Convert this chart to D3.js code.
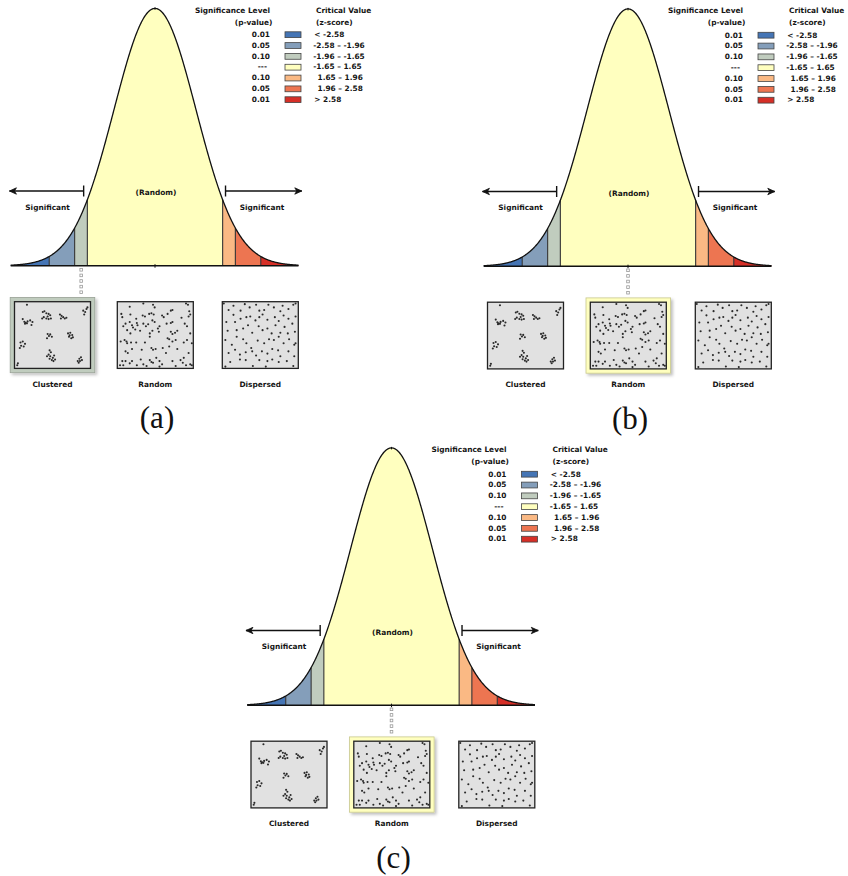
<!DOCTYPE html>
<html>
<head>
<meta charset="utf-8">
<script src="https://cdn.jsdelivr.net/npm/d3@7"></script>
<style>
  body { margin: 0; background: #fff; }
  text { font-family: "DejaVu Sans", Verdana, sans-serif; font-weight: bold; font-size: 7.4px; fill: #151515; }
  .panel-label { font-family: "Liberation Serif", "Times New Roman", serif; font-weight: normal; font-size: 31px; fill: #111; }
</style>
</head>
<body>
<div id="chart"></div>
<script>
// critical values (z-score) that split the curve into bands
const zBreaks = [-2.58, -1.96, -1.65, 1.65, 1.96, 2.58];
const bandColors = ["#4575b5", "#849eba", "#c0ccbe", "#ffffbf", "#fab984", "#ed7551", "#d62f27"];
const pValues = ["0.01", "0.05", "0.10", "---", "0.10", "0.05", "0.01"];
const zLabels = ["< -2.58", "-2.58 \u2013 -1.96", "-1.96 \u2013 -1.65", "-1.65 \u2013 1.65", "1.65 \u2013 1.96", "1.96 \u2013 2.58", "> 2.58"];
const patternNames = ["Clustered", "Random", "Dispersed"];
const panelLabels = ["(a)", "(b)", "(c)"];
const highlighted = [0, 1, 1];            // which pattern box is framed in each panel
const connectorZ = [-1.8, 0, 0];         // z-score where the dotted connector drops
const highlightBand = [2, 3, 3];         // band colour of the frame

// point patterns, in a 230 x 200 grid per box
const clusteredPts = [
  [36,7],
  [23,51],[28,59],[32,62],[36,64],[30,65],[46,55],[53,60],[50,69],[38,58],
  [85,29],[90,27],[96,33],[103,35],[108,39],[88,45],[96,49],[103,51],[110,49],[83,49],[100,43],
  [138,37],[143,41],[148,45],[153,49],[158,47],[141,49],
  [210,25],[216,29],[220,20],[213,37],[223,15],
  [98,110],[104,103],[108,98],[113,105],[100,97],
  [163,95],[170,93],[176,100],[166,105],[173,110],[168,101],[178,107],
  [16,123],[23,120],[30,127],[18,133],[26,135],[14,140],
  [106,147],[110,153],[103,160],[98,165],[108,165],[116,170],[120,163],[113,177],[106,173],[123,175],[118,180],
  [193,180],[198,173],[203,168],[200,180],[206,177],[196,185],
  [6,193],[8,187]
];
const randomPts = [
  [36,13],[78,3],[108,7],[113,15],[163,25],[168,23],[210,3],[216,7],[220,27],
  [10,35],[13,45],[38,37],[56,50],[76,40],[83,43],[96,35],[103,33],[110,37],[136,40],[141,45],[153,35],[196,47],[218,43],[223,37],
  [16,73],[23,65],[36,60],[43,70],[46,77],[58,63],[60,70],[78,65],[86,73],[93,67],[106,55],[113,60],[123,80],[128,73],[150,65],[163,63],[168,60],[206,65],[213,73],
  [28,85],[38,95],[53,83],[68,87],[98,95],[106,87],[126,90],[163,90],[168,97],[176,93],[183,87],[223,95],
  [8,120],[20,115],[26,120],[28,125],[40,123],[56,123],[83,123],[98,105],[153,110],[158,113],[168,120],[178,115],[203,123],[213,115],[228,125],
  [23,150],[30,155],[43,143],[73,145],[103,140],[108,145],[116,143],[138,140],[158,135],[183,143],[218,155],
  [13,180],[23,180],[36,187],[43,180],[70,175],[78,190],[98,177],[103,183],[108,185],[118,170],[128,180],[136,190],[148,155],[168,180],[193,177],[200,185],[203,170],[210,193],[223,190],
  [6,193],[16,193],[58,193],[88,195],[128,197],[178,195],[228,193]
];
const dispersedPts = [
  [17,23],[32,10],[54,25],[67,5],[82,15],[102,7],[112,25],[127,23],[140,7],[157,15],[177,27],[184,10],[202,20],[217,7],
  [10,60],[32,38],[37,60],[54,50],[72,45],[84,43],[100,55],[112,45],[122,37],[137,53],[160,45],[172,57],[187,40],[202,50],[214,65],[224,43],
  [14,87],[42,85],[62,80],[77,70],[90,93],[110,73],[122,85],[137,80],[150,95],[162,70],[177,93],[190,75],[200,95],[222,90],
  [7,115],[27,130],[42,105],[62,113],[72,125],[87,140],[107,117],[127,125],[142,113],[157,115],[172,105],[187,125],[204,113],[220,130],
  [17,155],[37,145],[52,160],[70,153],[90,150],[102,163],[120,150],[137,157],[152,143],[170,147],[177,165],[202,150],[220,165],
  [22,183],[52,175],[70,177],[92,195],[112,177],[137,180],[152,175],[172,183],[197,180],[217,195],[7,197],[132,197],[2,3],[224,3],[224,125]
];
const patterns = [clusteredPts, randomPts, dispersedPts];

const W = 848, H = 876;
const svg = d3.select("#chart").append("svg").attr("width", W).attr("height", H);

const defs = svg.append("defs");
defs.append("filter").attr("id", "shadow").attr("x", "-20%").attr("y", "-20%").attr("width", "150%").attr("height", "150%")
  .append("feDropShadow").attr("dx", 2).attr("dy", 2).attr("stdDeviation", 1.5).attr("flood-color", "#000").attr("flood-opacity", 0.25);

const panelOffsets = [[0, 0], [473, 0.5], [236.5, 439.5]];

const x = d3.scaleLinear().domain([-3.5, 3.5]).range([11.5, 298.5]);
const y = d3.scaleLinear().domain([0, 1]).range([265.7, 8.4]);
const pdf = z => Math.exp(-z * z / 2);
const zMin = -3.52, zMax = 3.5;

const area = d3.area().x(d => x(d)).y0(y(0)).y1(d => y(pdf(d)));
const line = d3.line().x(d => x(d)).y(d => y(pdf(d)));

const sampleRange = (lo, hi) => d3.range(lo, hi, 0.01).concat([hi]);

const boxX = [14.5, 117.3, 222.3], boxW = 76, boxY = 301.7, boxH = 66.7;

panelOffsets.forEach((off, p) => {
  const g = svg.append("g").attr("transform", `translate(${off[0]},${off[1]})`);

  // bands under the curve
  const edges = [zMin].concat(zBreaks, [zMax]);
  g.selectAll(".band").data(d3.range(7)).join("path")
    .attr("class", "band")
    .attr("d", i => area(sampleRange(edges[i], edges[i + 1])))
    .attr("fill", i => bandColors[i]);

  g.selectAll(".sep").data(zBreaks).join("line")
    .attr("class", "sep")
    .attr("x1", d => x(d)).attr("x2", d => x(d))
    .attr("y1", y(0)).attr("y2", d => y(pdf(d)))
    .attr("stroke", "#333").attr("stroke-width", 1.1);

  g.append("path").attr("d", line(sampleRange(zMin, zMax)))
    .attr("fill", "none").attr("stroke", "#111").attr("stroke-width", 1.3);

  g.append("line").attr("x1", x(zMin)).attr("x2", x(zMax)).attr("y1", y(0)).attr("y2", y(0))
    .attr("stroke", "#111").attr("stroke-width", 1.6);

  // small ticks at z = 0
  g.append("line").attr("x1", x(0)).attr("x2", x(0)).attr("y1", y(1) - 1).attr("y2", y(1) + 1.5)
    .attr("stroke", "#111").attr("stroke-width", 1);
  g.append("line").attr("x1", x(0)).attr("x2", x(0)).attr("y1", y(0) - 1.5).attr("y2", y(0) + 2)
    .attr("stroke", "#111").attr("stroke-width", 1);

  // arrows
  const ay = 191;
  const arrow = (xHead, xBar) => {
    const dir = xHead < xBar ? 1 : -1;
    g.append("line").attr("x1", xHead).attr("x2", xBar).attr("y1", ay).attr("y2", ay)
      .attr("stroke", "#111").attr("stroke-width", 1.4);
    g.append("line").attr("x1", xBar).attr("x2", xBar).attr("y1", ay - 5.5).attr("y2", ay + 5.5)
      .attr("stroke", "#111").attr("stroke-width", 1.4);
    g.append("path")
      .attr("d", `M${xHead},${ay} L${xHead + dir * 7},${ay - 3.2} L${xHead + dir * 5},${ay} L${xHead + dir * 7},${ay + 3.2} Z`)
      .attr("fill", "#111").attr("stroke", "#111").attr("stroke-width", 0.8).attr("stroke-linejoin", "round");
  };
  arrow(x(-3.55), x(-1.74));
  arrow(x(3.58), x(1.72));

  g.append("text").attr("x", x(0) + 1).attr("y", 195).attr("text-anchor", "middle").text("(Random)");
  g.append("text").attr("x", x(-2.62)).attr("y", 209.5).attr("text-anchor", "middle").text("Significant");
  g.append("text").attr("x", x(2.61)).attr("y", 209.5).attr("text-anchor", "middle").text("Significant");

  // legend
  const lg = g.append("g");
  const rowY = i => 37 + i * 10.83;
  lg.append("text").attr("x", 270).attr("y", 12.9).attr("text-anchor", "end").text("Significance Level");
  lg.append("text").attr("x", 272.5).attr("y", 24.5).attr("text-anchor", "end").text("(p-value)");
  lg.append("text").attr("x", 316).attr("y", 12.9).text("Critical Value");
  lg.append("text").attr("x", 316).attr("y", 24.5).text("(z-score)");
  lg.selectAll(".pv").data(pValues).join("text").attr("class", "pv")
    .attr("x", d => d === "---" ? 267 : 270).attr("y", (d, i) => rowY(i)).attr("text-anchor", "end").text(d => d);
  lg.selectAll(".sw").data(bandColors).join("rect").attr("class", "sw")
    .attr("x", 285).attr("y", (d, i) => rowY(i) - 5.2).attr("width", 16).attr("height", 5.8)
    .attr("fill", d => d).attr("stroke", "#444").attr("stroke-width", 0.8);
  lg.selectAll(".zl").data(zLabels).join("text").attr("class", "zl")
    .attr("x", (d, i) => i === 0 || i === 6 ? 314.3 : (i < 4 ? 313.3 : 317.5))
    .attr("y", (d, i) => rowY(i)).text(d => d);

  // dotted connector
  const cx = x(connectorZ[p]);
  g.selectAll(".conn").data(d3.range(268.5, 296, 5.6)).join("rect").attr("class", "conn")
    .attr("x", cx - 1.3).attr("y", d => d).attr("width", 2.6).attr("height", 2.6)
    .attr("fill", "#fff").attr("stroke", "#999").attr("stroke-width", 0.8);

  // pattern boxes
  patterns.forEach((pts, k) => {
    const bx = boxX[k];
    if (highlighted[p] === k) {
      g.append("rect").attr("x", bx - 4.3).attr("y", boxY - 4.3).attr("width", boxW + 8.6).attr("height", boxH + 8.6)
        .attr("fill", bandColors[highlightBand[p]]).attr("stroke", highlightBand[p] === 3 ? "#c9c98e" : "#9aa397")
        .attr("stroke-width", 0.8).attr("filter", "url(#shadow)");
    }
    g.append("rect").attr("x", bx).attr("y", boxY).attr("width", boxW).attr("height", boxH)
      .attr("fill", "#e1e1e1").attr("stroke", "#222").attr("stroke-width", 1.3);
    const px = d3.scaleLinear().domain([0, 230]).range([bx + 0.8, bx + boxW - 0.8]);
    const py = d3.scaleLinear().domain([0, 200]).range([boxY + 0.8, boxY + boxH - 0.8]);
    g.selectAll(".pt" + k).data(pts).join("circle").attr("class", "pt" + k)
      .attr("cx", d => px(d[0])).attr("cy", d => py(d[1])).attr("r", 1.05).attr("fill", "#2a2a2a");
    g.append("text").attr("x", bx + boxW / 2).attr("y", 386.5).attr("text-anchor", "middle").text(patternNames[k]);
  });

  g.append("text").attr("class", "panel-label").attr("x", 157).attr("y", 428).attr("text-anchor", "middle").text(panelLabels[p]);
});
</script>
</body>
</html>
